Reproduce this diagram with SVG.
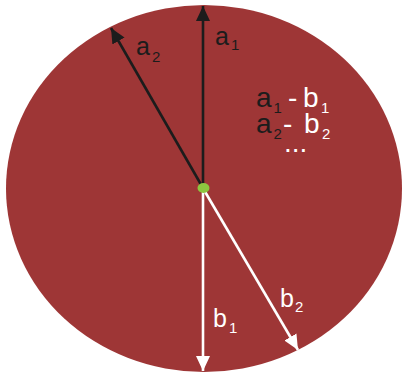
<svg xmlns="http://www.w3.org/2000/svg" width="402" height="374" viewBox="0 0 402 374">
<style>
.dk{fill:#1c1c1c}
.wt{fill:#ffffff}
text{font-family:"Liberation Sans","DejaVu Sans",sans-serif}
.lbl{font-size:25px}
.blk{font-size:28px}
.sub{font-size:15px}
</style>
<defs>
<marker id="ahB" markerUnits="userSpaceOnUse" markerWidth="16" markerHeight="16" viewBox="0 0 16 16" refX="15" refY="8" orient="auto"><path d="M0,1 L15,8 L0,15 Z" fill="#1c1c1c"/></marker>
<marker id="ahW" markerUnits="userSpaceOnUse" markerWidth="16" markerHeight="16" viewBox="0 0 16 16" refX="15" refY="8" orient="auto"><path d="M0,1 L15,8 L0,15 Z" fill="#ffffff"/></marker>
</defs>
<rect width="402" height="374" fill="#ffffff"/>
<g id="disc"><ellipse cx="204" cy="188.5" rx="198" ry="183.5" fill="#9e3636"/></g>
<g id="connectors" stroke-width="2.6" fill="none">
<line x1="203" y1="188" x2="203" y2="6" stroke="#1c1c1c" marker-end="url(#ahB)"/>
<line x1="203" y1="188" x2="111" y2="28" stroke="#1c1c1c" marker-end="url(#ahB)"/>
<line x1="203" y1="190" x2="203" y2="371" stroke="#ffffff" marker-end="url(#ahW)"/>
<line x1="204" y1="190" x2="298" y2="350" stroke="#ffffff" marker-end="url(#ahW)"/>
</g>
<g id="center"><ellipse cx="203.5" cy="188" rx="6" ry="5" fill="#8dc63f"/></g>
<g id="label-a1"><text class="lbl dk" x="215" y="45">a</text><text class="sub dk" x="231" y="50">1</text></g>
<g id="label-a2"><text class="lbl dk" x="136" y="55">a</text><text class="sub dk" x="152" y="62">2</text></g>
<g id="label-b1"><text class="lbl wt" x="213" y="327">b</text><text class="sub wt" x="229" y="333">1</text></g>
<g id="label-b2"><text class="lbl wt" x="280" y="307">b</text><text class="sub wt" x="295" y="312">2</text></g>
<g id="pairs">
<text class="blk dk" x="256" y="107">a</text><text class="sub dk" x="273.5" y="113">1</text>
<text class="blk wt" x="288" y="107">-</text>
<text class="blk wt" x="303" y="107">b</text><text class="sub wt" x="321" y="113">1</text>
<text class="blk dk" x="256" y="133">a</text><text class="sub dk" x="273.5" y="139">2</text>
<text class="blk wt" x="283" y="133">-</text>
<text class="blk wt" x="304" y="133">b</text><text class="sub wt" x="322" y="139">2</text>
<text class="blk wt" x="284" y="152">...</text>
</g>
</svg>
